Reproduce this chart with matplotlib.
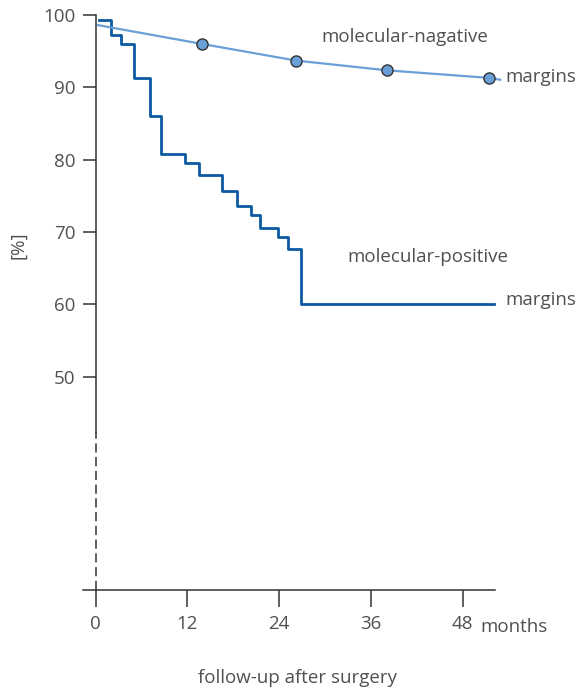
import matplotlib
matplotlib.use("Agg")
import matplotlib.pyplot as plt

# ---- data ----
pos_months = [0.4, 2.0, 3.3, 5.0, 7.1, 8.5, 11.7, 13.5, 16.5, 18.5, 20.3, 21.5, 23.8, 25.2, 26.8, 52.1]
pos_values = [99.3, 97.3, 96.0, 91.3, 86.1, 80.8, 79.5, 77.9, 75.7, 73.6, 72.4, 70.6, 69.3, 67.6, 60.1, 60.1]

neg_line_months = [0.3, 13.9, 26.2, 38.1, 51.5, 52.9]
neg_line_values = [98.6, 96.0, 93.7, 92.35, 91.3, 91.05]
neg_point_months = [13.9, 26.2, 38.1, 51.5]
neg_point_values = [96.0, 93.7, 92.35, 91.3]

y_ticks = [50, 60, 70, 80, 90, 100]
x_ticks = [0, 12, 24, 36, 48]
x_ticklabels = ["0", "12", "24", "36", "48"]

plt.rcParams['font.family'] = ['Open Sans', 'DejaVu Sans']
FS = 13.5
TXT = "#505050"
AX = "#333333"
DARK = "#0b5aa2"
LIGHT = "#6a9fd8"

fig = plt.figure(figsize=(5.85, 6.92), dpi=100)
ax = fig.add_axes([82.7 / 585, 1 - 590 / 692, (494.8 - 82.7) / 585, (590 - 15) / 692])
ax.set_xlim(-1.7, 52.2)
ax.set_ylim(20.5, 100)

# curves
ax.step(pos_months, pos_values, where='post', color=DARK, lw=2.0, clip_on=False, zorder=3)
ax.plot(neg_line_months, neg_line_values, color=LIGHT, lw=1.6, clip_on=False, zorder=3)
ax.plot(neg_point_months, neg_point_values, 'o', ms=8, mfc=LIGHT, mec="#333333", mew=1.0,
        clip_on=False, zorder=4)

# spines
for s in ['top', 'right']:
    ax.spines[s].set_visible(False)
ax.spines['left'].set_position(('data', 0))
ax.spines['left'].set_bounds(42.4, 100)
ax.spines['left'].set_color(AX)
ax.spines['bottom'].set_color(AX)
ax.spines['left'].set_linewidth(1.1)
ax.spines['bottom'].set_linewidth(1.1)
ax.plot([0, 0], [20.5, 42.4], color=AX, lw=1.1, ls=(0, (6, 3)), clip_on=False)

ax.set_yticks(y_ticks)
ax.set_yticklabels([str(v) for v in y_ticks])
ax.set_xticks(x_ticks)
ax.set_xticklabels(x_ticklabels)
ax.tick_params(axis='y', direction='out', length=9.5, width=1.1, color=AX, labelsize=FS,
               labelcolor=TXT, pad=5)
ax.tick_params(axis='x', direction='out', length=12, width=1.1, color=AX, labelsize=FS,
               labelcolor=TXT, pad=6)

fig.text(480 / 585, 1 - 627 / 692, "months", fontsize=FS, color=TXT, ha='left', va='center')
fig.text(297 / 585, 1 - 678 / 692, "follow-up after surgery", fontsize=FS, color=TXT,
         ha='center', va='center')
fig.text(18 / 585, 1 - 245 / 692, "[%]", fontsize=FS, color=TXT, ha='center', va='center',
         rotation=90)

fig.text(321 / 585, 1 - 37 / 692, "molecular-nagative", fontsize=FS, color=TXT, ha='left', va='center')
fig.text(576 / 585, 1 - 77 / 692, "margins", fontsize=FS, color=TXT, ha='right', va='center')
fig.text(347 / 585, 1 - 257 / 692, "molecular-positive", fontsize=FS, color=TXT, ha='left', va='center')
fig.text(576 / 585, 1 - 300 / 692, "margins", fontsize=FS, color=TXT, ha='right', va='center')

fig.savefig("out.png", dpi=100)
